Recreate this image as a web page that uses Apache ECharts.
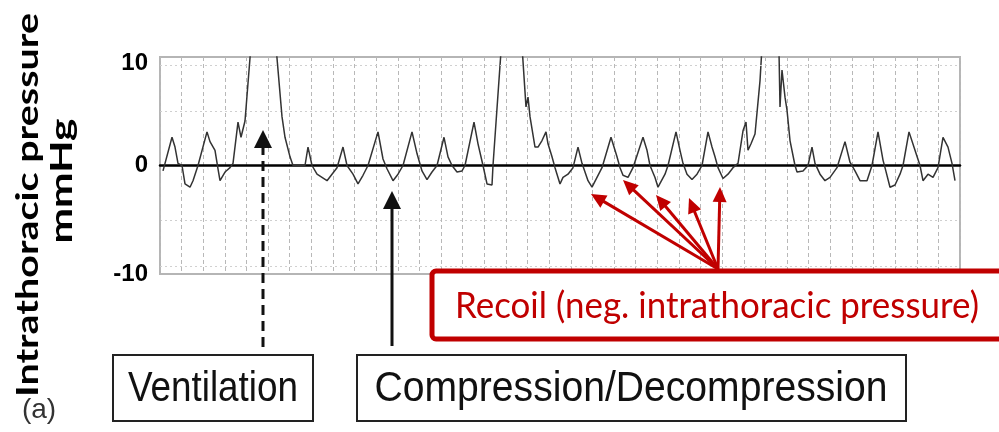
<!DOCTYPE html>
<html><head><meta charset="utf-8">
<script src="https://cdn.jsdelivr.net/npm/echarts@6/dist/echarts.min.js"></script>
<style>html,body{margin:0;padding:0;background:#fff}#c{width:999px;height:432px}</style>
</head><body><div id="c"></div>
<script>
// time in arbitrary units (0..800 spans the 37 graticule columns)
const timeValues = [3,12,15,18,22,25,30,33,38,47,
50,55,58,60,65,70,73,78,81,85,
103,122,125,130,133,145,148,152,157,162,
167,172,177,183,187,193,198,203,208,218,
223,227,233,238,243,252,257,262,267,272,
277,284,288,292,297,302,305,314,318,323,
327,332,333,352,366,368,370,375,378,382,
386,388,392,395,400,403,408,413,418,422,
428,432,437,442,451,457,460,463,468,473,
483,487,490,495,498,505,508,516,520,523,
527,532,537,542,548,552,555,558,563,568,
573,578,583,586,588,591,595,600,611,619,
620,622,625,627,630,635,637,643,648,652,
655,660,665,670,677,685,690,695,700,707,
712,718,723,725,730,735,740,743,749,755,
760,763,768,773,778,783,788,792,795];
// intrathoracic pressure, mmHg
const pressureValues = [-0.5,2.6,1.7,0.2,0,-1.7,-2.0,-1.4,0,3.1,
2.2,1.4,-0.3,-1.4,-0.6,-0.2,0.2,4.0,2.6,4.1,
25,4.5,2.6,0.8,0,0,1.7,0,-0.8,-1.1,
-1.4,-0.8,-0.2,1.7,0,-0.8,-1.7,-0.9,0,3.1,
0.6,-0.3,-1.4,-0.8,0,3.1,1.1,-0.5,-1.3,-0.6,
0,2.6,0.8,0,-0.6,-0.5,0,4.0,2.0,0,
-1.7,-1.8,0,25,5.4,6.3,4.5,1.7,1.7,2.3,
3.1,2.0,0.8,-0.2,-1.7,-1.1,-0.8,-0.2,1.7,0.2,
-1.4,-2.0,-1.1,-0.2,2.6,0.8,-0.2,-0.9,-1.1,-0.2,
2.6,1.4,0,-1.1,-2.0,-0.8,0,3.1,1.4,0.2,
-0.8,-1.3,-0.8,0,3.1,1.7,0.8,-0.2,-1.2,-0.8,
-0.2,0.2,3.2,4.0,1.4,2.0,2.9,7.8,25,10.5,
5.4,8.8,6.3,5.1,2.3,0,-0.6,-0.5,0,1.7,
0.2,-0.8,-1.4,-1.1,-0.2,2.2,0.3,-0.5,-1.4,-1.4,
0,3.1,0.5,-0.2,-2.0,-1.8,-0.8,0,3.1,1.4,
0,-1.4,-0.8,-1.1,-0.2,2.6,1.7,0.2,-1.4];
const yTicks = [-10, 0, 10];
const graticuleLines = [9.25, -9.3];
const axisTitle = 'Intrathoracic pressure';
const unitTitle = 'mmHg';
const panelLabel = '(a)';
const boxLabels = ['Ventilation', 'Compression/Decompression'];
const recoilLabel = 'Recoil (neg. intrathoracic pressure)';

const seriesData = timeValues.map((t, i) => [t, pressureValues[i]]);

const mctx = document.createElement('canvas').getContext('2d');
function textW(txt, font) { mctx.font = font; return mctx.measureText(txt).width; }

function txt(text, x, y, font, fill, opts) {
  opts = opts || {};
  return Object.assign({
    type: 'text', x: x, y: y, z: 100,
    style: { text: text, font: font, fill: fill, align: 'center', verticalAlign: 'middle',
             textAlign: 'center', textVerticalAlign: 'middle' }
  }, opts);
}
function arrow(x1, y1, x2, y2, color, width, headLen, headHalf, dash) {
  const dx = x2 - x1, dy = y2 - y1, L = Math.hypot(dx, dy);
  const ux = dx / L, uy = dy / L;
  const bx = x2 - ux * headLen, by = y2 - uy * headLen;
  return [{
    type: 'line', z: 100,
    shape: { x1: x1, y1: y1, x2: bx + ux * 1, y2: by + uy * 1 },
    style: { stroke: color, lineWidth: width, lineDash: dash || null }
  }, {
    type: 'polygon', z: 100,
    shape: { points: [[x2, y2], [bx - uy * headHalf, by + ux * headHalf], [bx + uy * headHalf, by - ux * headHalf]] },
    style: { fill: color }
  }];
}

const titleFont = 'bold 31px Lato';
const boxFont = '37px "Liberation Sans"';
const redFont = '30px Lato';
const red = '#c00000';

let graphics = [];
graphics.push(txt(axisTitle, 28, 205, titleFont, '#000',
  { rotation: Math.PI / 2, scaleX: 384 / textW(axisTitle, titleFont) }));
graphics.push(txt(unitTitle, 62, 181, titleFont, '#000',
  { rotation: Math.PI / 2, scaleX: 125 / textW(unitTitle, titleFont) }));
graphics.push(txt(panelLabel, 39, 410, '28px "Liberation Sans"', '#333'));

// boxes
graphics.push({ type: 'rect', z: 99, shape: { x: 113, y: 355, width: 200, height: 66 },
  style: { fill: '#fff', stroke: '#222', lineWidth: 2 } });
graphics.push({ type: 'rect', z: 99, shape: { x: 357, y: 355, width: 549, height: 66 },
  style: { fill: '#fff', stroke: '#222', lineWidth: 2 } });
graphics.push(txt(boxLabels[0], 213, 389, boxFont, '#111',
  { scaleY: 1.17, scaleX: 170 / textW(boxLabels[0], boxFont) }));
graphics.push(txt(boxLabels[1], 631, 389, boxFont, '#111',
  { scaleY: 1.17, scaleX: 513 / textW(boxLabels[1], boxFont) }));

// red box
graphics.push({ type: 'rect', z: 99, shape: { x: 432, y: 271, width: 590, height: 68, r: 4 },
  style: { fill: '#fff', stroke: red, lineWidth: 5 } });
graphics.push(txt(recoilLabel, 717, 306, redFont, red,
  { scaleY: 1.2, scaleX: 524 / textW(recoilLabel, redFont) }));

// black arrows
graphics = graphics.concat(arrow(263, 347, 263, 130, '#111', 3, 18, 9, [10, 6]));
graphics = graphics.concat(arrow(392, 346, 392, 191, '#111', 3, 18, 9));

// red arrows
const origin = [718, 269];
[[591, 194], [623, 180], [656, 195], [689, 198], [720, 187]].forEach(p => {
  graphics = graphics.concat(arrow(origin[0], origin[1], p[0], p[1], red, 3, 15, 7));
});

const chart = echarts.init(document.getElementById('c'), null, { renderer: 'canvas' });
chart.setOption({
  animation: false,
  backgroundColor: '#fff',
  grid: { left: 160, right: 39, top: 57, bottom: 158, show: true, borderColor: '#b5b5b5', borderWidth: 2, containLabel: false },
  xAxis: {
    type: 'value', min: 0, max: 800, interval: 800 / 37,
    axisLabel: { show: false }, axisTick: { show: false },
    axisLine: { show: true, onZero: true, lineStyle: { color: '#000', width: 2.5 } },
    splitLine: { show: true, lineStyle: { color: '#b8b8b8', width: 1, type: [4, 3] } }
  },
  yAxis: {
    type: 'value', min: yTicks[0], max: yTicks[yTicks.length - 1], interval: 10,
    axisLine: { show: false }, axisTick: { show: false },
    splitLine: { show: false },
    minorTick: { show: false, splitNumber: 2 },
    minorSplitLine: { show: true, lineStyle: { color: '#cfcfcf', width: 1, type: [2, 3] } },
    axisLabel: {
      margin: 12, color: '#000', fontWeight: 'bold', fontSize: 24, fontFamily: 'Liberation Sans',
      formatter: v => v === 10 ? '{top|10}' : String(v),
      rich: { top: { padding: [12, 0, 0, 0], color: '#000', fontWeight: 'bold', fontSize: 24, fontFamily: 'Liberation Sans' } }
    }
  },
  series: [{
    type: 'line', data: seriesData, showSymbol: false, symbol: 'none', clip: true,
    lineStyle: { color: '#333', width: 1.5 }, z: 3,
    markLine: {
      silent: true, symbol: 'none', label: { show: false },
      lineStyle: { color: '#d0d0d0', width: 1, type: [2, 3] },
      data: graticuleLines.map(v => ({ yAxis: v }))
    }
  }],
  graphic: { elements: graphics }
});
</script></body></html>
